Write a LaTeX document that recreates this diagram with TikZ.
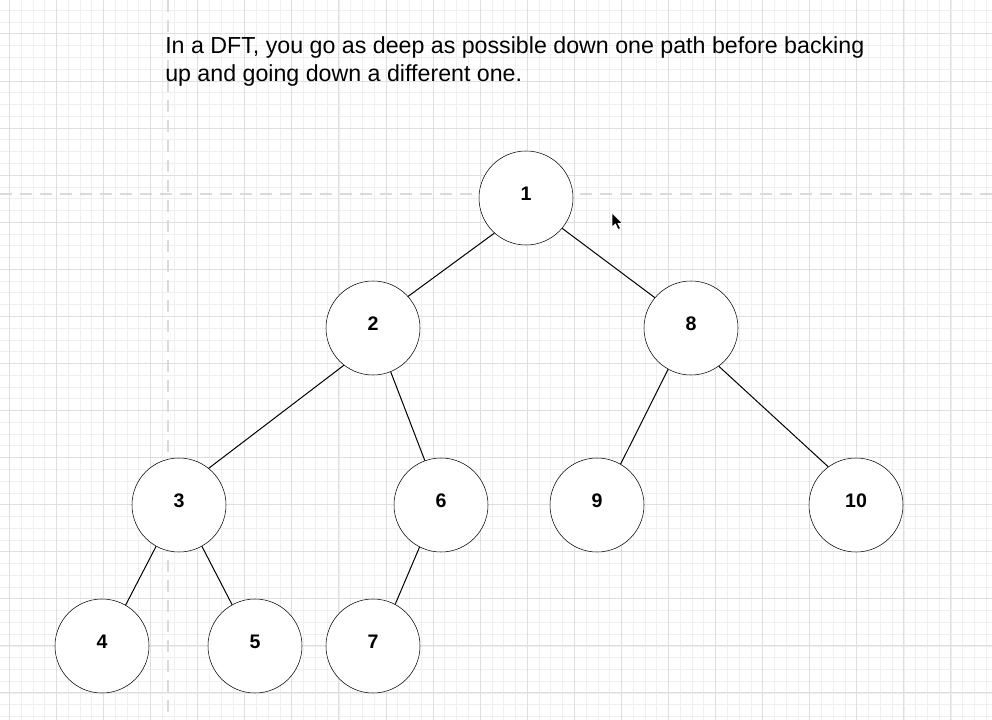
\documentclass[tikz,border=0pt]{standalone}
\usepackage{fontspec}
\setmainfont{Liberation Sans}
\definecolor{minorgrid}{HTML}{EFEFEF}
\definecolor{majorgrid}{HTML}{DFDFDF}
\definecolor{guide}{HTML}{DDD8DE}

\begin{document}
\begin{tikzpicture}[x=0.75pt,y=-0.75pt,thin,tree node/.style={circle,draw,fill=white,minimum size=70.5pt,inner sep=0pt,text height=10.5pt,text depth=6.75pt,font=\bfseries\fontsize{14.7}{16}\selectfont},guide line/.style={guide,line width=1.5pt,dash pattern=on 9pt off 6pt}]
  \useasboundingbox (0,0) rectangle (992,720);
  \fill[white] (0,0) rectangle (992,720);
  % grid
  \foreach \k in {-1,...,84} {
    \draw[minorgrid,line width=0.75pt] ({9.5+11.77*\k},0) -- ({9.5+11.77*\k},720);
  }
  \foreach \k in {-3,...,61} {
    \draw[minorgrid,line width=0.75pt] (0,{34+11.77*\k}) -- (992,{34+11.77*\k});
  }
  \foreach \k in {0,...,21} {
    \draw[majorgrid,line width=0.75pt] ({9.5+47.07*\k},0) -- ({9.5+47.07*\k},720);
  }
  \foreach \k in {-1,...,15} {
    \draw[majorgrid,line width=0.75pt] (0,{34+47.07*\k}) -- (992,{34+47.07*\k});
  }
  % guides
  \draw[guide line] (0,194) -- (992,194);
  \draw[guide line] (168,0) -- (168,720);

  \node[anchor=north west,align=left,inner sep=0pt,font=\fontsize{17.4}{21}\selectfont] (caption) at (165,36) {In a DFT, you go as deep as possible down one path before backing\\up and going down a different one.};

  \node[tree node] (1) at (526,198) {1};
  \node[tree node] (2) at (373,328) {2};
  \node[tree node] (8) at (691,328) {8};
  \node[tree node] (3) at (179,505) {3};
  \node[tree node] (6) at (441,505) {6};
  \node[tree node] (9) at (597,505) {9};
  \node[tree node] (10) at (856,505) {10};
  \node[tree node] (4) at (102,646) {4};
  \node[tree node] (5) at (255,646) {5};
  \node[tree node] (7) at (373,646) {7};

\path[draw,line width=0.75pt]
  (1.228) edge (2.42)
  (1.320) edge (8.140)
  (2.232) edge (3.51)
  (2.292) edge (6.110)
  (8.241) edge (9.60)
  (8.306) edge (10.126)
  (3.241) edge (4.60)
  (3.299) edge (5.119)
  (6.243) edge (7.62)
;
  % pointer
  \filldraw[fill=black,draw=white,line width=0.5pt] (612,213) -- (612,227) -- (615.5,224) -- (618,229.5) -- (620.5,228.5) -- (618,223.5) -- (622.5,223.5) -- cycle;
\end{tikzpicture}
\end{document}
